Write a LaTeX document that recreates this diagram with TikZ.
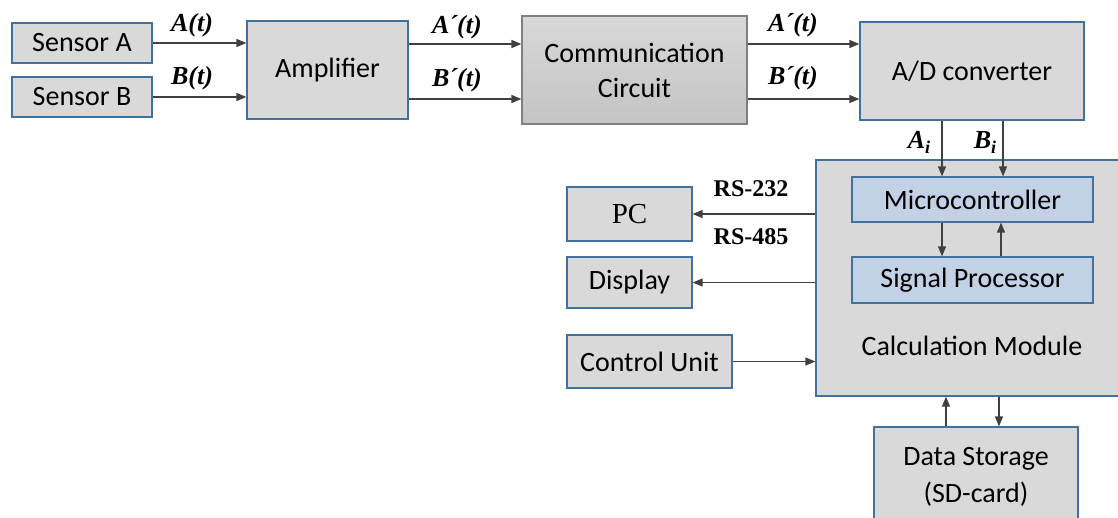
\documentclass[tikz,border=0pt]{standalone}
\usepackage{fontspec}
\setmainfont{Carlito}
\newfontfamily\tms{Liberation Serif}
\usetikzlibrary{arrows.meta}
\definecolor{boxfill}{HTML}{D9D9D9}
\definecolor{boxline}{HTML}{41719C}
\definecolor{bluefill}{HTML}{C2D1E5}
\definecolor{arrowc}{HTML}{404040}
\definecolor{ccline}{HTML}{7F7F7F}
\definecolor{cctop}{HTML}{D8D8D8}
\definecolor{ccbot}{HTML}{C4C4C4}
\begin{document}
\begin{tikzpicture}[x=1pt,y=-1pt,
  txt/.style={font=\fontsize{28}{36}\selectfont},
  box/.style={draw=boxline, fill=boxfill, line width=1.2pt, inner sep=0pt, align=center, txt},
  bbox/.style={box, fill=bluefill},
  lbl/.style={font=\tms\bfseries\itshape\fontsize{26}{30}\selectfont, inner sep=0pt},
  rslbl/.style={font=\tms\bfseries\fontsize{24}{28}\selectfont, inner sep=0pt},
  arr/.style={draw=arrowc, line width=1.3pt, -{Triangle[length=10pt,width=8pt]}}]
\useasboundingbox (0,0) rectangle (1118,517);
\clip (0,0) rectangle (1118,517);
% boxes
\node[box, minimum width=140pt, minimum height=40pt] (sa) at (82,43) {Sensor A};
\node[box, minimum width=140pt, minimum height=40pt] (sb) at (82,97) {Sensor B};
\node[box, minimum width=161pt, minimum height=98pt] (amp) at (327.5,70) {Amplifier};
\node[box, draw=ccline, top color=cctop, bottom color=ccbot, minimum width=225pt, minimum height=108pt, font=\fontsize{28}{35}\selectfont] (cc) at (634.5,70) {Communication\\Circuit};
\node[box, minimum width=224pt, minimum height=98pt] (ad) at (972,71) {A/D converter};
\node[box, minimum width=310pt, minimum height=236pt] (cm) at (971,278) {};
\node[txt, inner sep=0pt] (cmt) at (972,346) {Calculation Module};
\node[bbox, minimum width=241pt, minimum height=45pt] (mc) at (972.5,199.5) {Microcontroller};
\node[bbox, minimum width=241pt, minimum height=46pt] (sp) at (972.5,280) {Signal Processor};
\node[box, minimum width=125pt, minimum height=54pt, font=\tms\fontsize{29}{32}\selectfont] (pc) at (629.5,214) {PC};
\node[box, minimum width=125pt, minimum height=51pt] (disp) at (629.5,282.5) {Display};
\node[box, minimum width=165pt, minimum height=53pt] (cu) at (649.5,361.5) {Control Unit};
\node[box, minimum width=204pt, minimum height=110pt] (ds) at (976,482) {};
\node[font=\fontsize{28}{37}\selectfont, inner sep=0pt, align=center] (dst) at (976,477) {Data Storage\\(SD-card)};
% coordinates
\coordinate (ya) at (0,44);
\coordinate (yb) at (0,99);
\coordinate (xa) at (942,0);
\coordinate (xb) at (1003,0);
\coordinate (xc) at (1001,0);
\coordinate (xd) at (946,0);
\coordinate (xe) at (999,0);
% arrows
\draw[arr] (sa.east) -- (amp.west |- sa.east);
\draw[arr] (sb.east) -- (amp.west |- sb.east);
\draw[arr] (amp.east |- ya) -- (cc.west |- ya);
\draw[arr] (amp.east |- yb) -- (cc.west |- yb);
\draw[arr] (cc.east |- ya) -- (ad.west |- ya);
\draw[arr] (cc.east |- yb) -- (ad.west |- yb);
\draw[arr] (ad.south -| xa) -- (mc.north -| xa);
\draw[arr] (ad.south -| xb) -- (mc.north -| xb);
\draw[arr] (mc.south -| xa) -- (sp.north -| xa);
\draw[arr] (sp.north -| xc) -- (mc.south -| xc);
\draw[arr] (cm.west |- pc.east) -- (pc.east);
\draw[arr] (cm.west |- disp.east) -- (disp.east);
\draw[arr] (cu.east) -- (cm.west |- cu.east);
\draw[arr] (ds.north -| xd) -- (cm.south -| xd);
\draw[arr] (cm.south -| xe) -- (ds.north -| xe);
% labels
\node[lbl] (la) at (192,25) {A(t)};
\node[lbl] (lb) at (192,78) {B(t)};
\node[lbl] (la2) at (457,27) {A\kern-1pt´(t)};
\node[lbl] (lb2) at (457,80) {B\kern-1pt´(t)};
\node[lbl] (la3) at (793,25) {A\kern-1pt´(t)};
\node[lbl] (lb3) at (793,78) {B\kern-1pt´(t)};
\node[lbl] (lai) at (919,142) {A\raisebox{-5pt}{\fontsize{18}{20}\selectfont i}};
\node[lbl] (lbi) at (985,142) {B\raisebox{-5pt}{\fontsize{18}{20}\selectfont i}};
\node[rslbl] (rs1) at (751,189) {RS-232};
\node[rslbl] (rs2) at (751,237) {RS-485};
\end{tikzpicture}
\end{document}
